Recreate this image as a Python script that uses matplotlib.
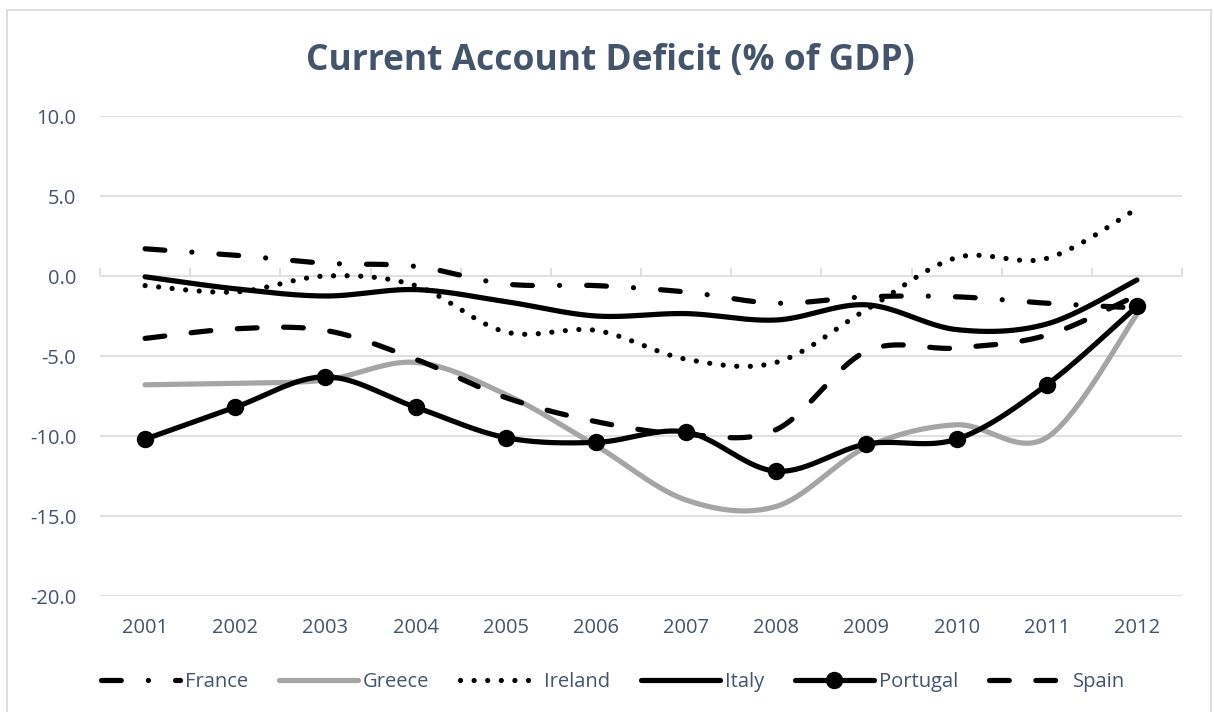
import numpy as np
import matplotlib
matplotlib.use("Agg")
import matplotlib.pyplot as plt
from matplotlib.lines import Line2D
from matplotlib.patches import Rectangle

plt.rcParams['font.family'] = ['Open Sans', 'DejaVu Sans']

years = [2001, 2002, 2003, 2004, 2005, 2006, 2007, 2008, 2009, 2010, 2011, 2012]
france = [1.7, 1.3, 0.8, 0.6, -0.5, -0.6, -1.0, -1.7, -1.3, -1.3, -1.7, -2.0]
greece = [-6.8, -6.7, -6.5, -5.4, -7.4, -10.6, -14.0, -14.4, -10.7, -9.3, -10.1, -2.4]
ireland = [-0.6, -1.0, 0.0, -0.6, -3.5, -3.4, -5.2, -5.4, -2.1, 1.15, 1.1, 4.2]
italy = [-0.05, -0.8, -1.25, -0.85, -1.6, -2.5, -2.35, -2.75, -1.8, -3.35, -3.0, -0.25]
portugal = [-10.2, -8.2, -6.3, -8.2, -10.1, -10.4, -9.75, -12.2, -10.5, -10.2, -6.8, -1.9]
spain = [-3.9, -3.3, -3.4, -5.2, -7.6, -9.1, -9.9, -9.6, -4.7, -4.5, -3.7, -1.2]
y_ticks = [-20, -15, -10, -5, 0, 5, 10]
title = "Current Account Deficit (% of GDP)"

TXT = '#44546A'
GRID = '#D9D9D9'
LW = 3.75


def smooth(x, y, n=40):
    """Excel-like smoothed line: cubic Bezier segments with Catmull-Rom control points."""
    x = np.asarray(x, float)
    y = np.asarray(y, float)
    P = np.column_stack([x, y])
    m = len(P)
    out = [P[0]]
    t = np.linspace(0, 1, n)[1:, None]
    for i in range(m - 1):
        p0 = P[i - 1] if i > 0 else P[i]
        p1 = P[i]
        p2 = P[i + 1]
        p3 = P[i + 2] if i + 2 < m else P[i + 1]
        c1 = p1 + (p2 - p0) / 6.0
        c2 = p2 - (p3 - p1) / 6.0
        seg = ((1 - t) ** 3) * p1 + 3 * ((1 - t) ** 2) * t * c1 + 3 * (1 - t) * t ** 2 * c2 + t ** 3 * p2
        out.extend(seg)
    out = np.array(out)
    return out[:, 0], out[:, 1]


fig = plt.figure(figsize=(12.14, 7.12), dpi=100)
ax = fig.add_axes([100 / 1214, 1 - 596 / 712, (1182 - 100) / 1214, (596 - 116) / 712])

styles = {
    'France': dict(color='black', dashes=(3.8, 5.2, 0.01, 5.2)),
    'Greece': dict(color='#A5A5A5', dashes=None),
    'Ireland': dict(color='black', dashes=(0.01, 2.6)),
    'Italy': dict(color='black', dashes=None),
    'Portugal': dict(color='black', dashes=None),
    'Spain': dict(color='black', dashes=(3.8, 5.1)),
}
series = [('France', france), ('Greece', greece), ('Ireland', ireland),
          ('Italy', italy), ('Portugal', portugal), ('Spain', spain)]

handles = []
for z, (name, vals) in enumerate(series):
    st = styles[name]
    sx, sy = smooth(years, vals)
    kw = dict(color=st['color'], lw=LW, solid_capstyle='round', dash_capstyle='round', zorder=3 + z)
    line, = ax.plot(sx, sy, **kw)
    if st['dashes'] is not None:
        line.set_dashes(st['dashes'])
    hkw = dict(kw)
    hkw.pop('zorder')
    if name == 'Portugal':
        ax.plot(years, vals, linestyle='none', marker='o', markersize=11.5,
                color='black', zorder=3 + z)
        h = Line2D([], [], marker='o', markersize=11.5, **hkw)
    else:
        h = Line2D([], [], **hkw)
    if st['dashes'] is not None:
        h.set_dashes(st['dashes'])
    h.set_label(name)
    handles.append(h)

ax.set_xlim(2000.5, 2012.5)
ax.set_ylim(-20, 10)
ax.set_yticks(y_ticks)
ax.set_yticklabels([f"{v:.1f}" for v in y_ticks])
ax.set_xticks(years)
ax.set_xticklabels([str(y) for y in years])
ax.grid(axis='y', color=GRID, lw=1.2, zorder=0)
ax.set_axisbelow(True)
for s in ax.spines.values():
    s.set_visible(False)
ax.tick_params(axis='both', length=0, labelsize=14.5, labelcolor=TXT)
ax.tick_params(axis='y', pad=17)
ax.tick_params(axis='x', pad=16)

# horizontal category axis crossing at zero, with tick marks between categories
sec = ax.secondary_xaxis((0 - (-20)) / 30)
sec.set_xticks([y + 0.5 for y in years[:-1]] + [2000.5, 2012.5])
sec.tick_params(axis='x', length=6, width=1.2, color=GRID, labelbottom=False, labeltop=False,
                direction='out')
sec.spines['bottom'].set_color(GRID)
sec.spines['bottom'].set_linewidth(1.2)
for k in ('top', 'left', 'right'):
    sec.spines[k].set_visible(False)

leg = fig.legend(handles=handles, loc='center', bbox_to_anchor=(613 / 1214, 1 - 682 / 712),
                 ncol=6, frameon=False, fontsize=14.5, labelcolor=TXT, handlelength=3.9,
                 handletextpad=0.25, columnspacing=1.55)

fig.text(610 / 1214, 1 - 61 / 712, title, ha='center', va='center', fontsize=25.5,
         fontweight='bold', color=TXT)

fig.patches.append(Rectangle((7 / 1214, -0.05), (1211 - 7) / 1214, 1.05 - 10 / 712,
                             transform=fig.transFigure, fill=False, edgecolor=GRID, lw=1.2))

fig.savefig('out.png', dpi=100)
